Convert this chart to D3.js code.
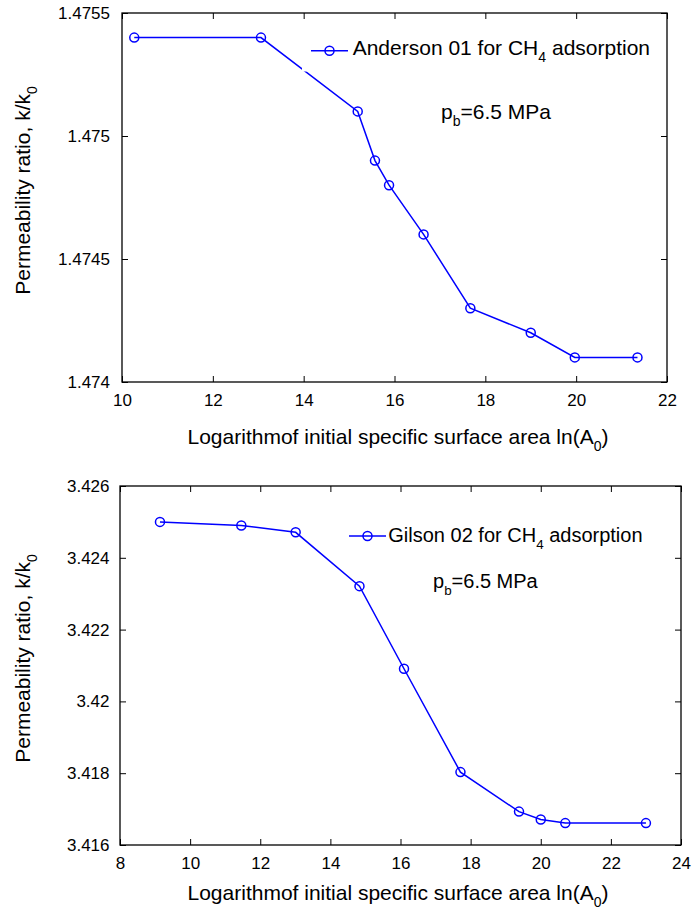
<!DOCTYPE html>
<html>
<head>
<meta charset="utf-8">
<script src="https://cdn.jsdelivr.net/npm/d3@7"></script>
<style>
  body { margin: 0; background: #fff; }
  svg text { font-family: Arial, "Liberation Sans", sans-serif; fill: #000; }
</style>
</head>
<body>
<div id="chart"></div>
<script>
// Anderson 01 (top panel)
const andersonX = [10.27, 13.06, 15.19, 15.57, 15.88, 16.64, 17.67, 19.0, 19.97, 21.35];
const andersonY = [1.4754, 1.4754, 1.4751, 1.4749, 1.4748, 1.4746, 1.4743, 1.4742, 1.4741, 1.4741];

// Gilson 02 (bottom panel)
const gilsonX = [9.14, 11.46, 13.01, 14.83, 16.10, 17.71, 19.38, 20.0, 20.70, 23.0];
const gilsonY = [3.4250, 3.4249, 3.42471, 3.42321, 3.42091, 3.41803, 3.41693, 3.41671, 3.41661, 3.41661];

const topXTicks = [10, 12, 14, 16, 18, 20, 22];
const topYTicks = [1.474, 1.4745, 1.475, 1.4755];
const botXTicks = [8, 10, 12, 14, 16, 18, 20, 22, 24];
const botYTicks = [3.416, 3.418, 3.42, 3.422, 3.424, 3.426];

const W = 692, H = 911;
const blue = '#0000ff';
const tickFont = 17, labelFont = 21, subFont = 14;

const svg = d3.select('#chart').append('svg')
    .attr('width', W)
    .attr('height', H);

// text with a subscript part: parts = [[text, isSub], ...]
function richText(sel, parts, sub = subFont) {
    let down = false;
    parts.forEach(([t, isSub]) => {
        const ts = sel.append('tspan').text(t);
        if (isSub && !down) { ts.attr('dy', 7).attr('font-size', sub); down = true; }
        else if (!isSub && down) { ts.attr('dy', -7); down = false; }
    });
}

function drawPanel(cfg) {
    const { box, xDomain, yDomain, xTicks, yTicks, xs, ys, legend, legendBox, note, yPad, xLabelY, noteFont } = cfg;
    const x = d3.scaleLinear().domain(xDomain).range([box.left, box.right]);
    const y = d3.scaleLinear().domain(yDomain).range([box.bottom, box.top]);
    const g = svg.append('g');

    // data line
    const pts = xs.map((v, i) => [v, ys[i]]);
    g.append('path')
        .datum(pts)
        .attr('fill', 'none')
        .attr('stroke', blue)
        .attr('stroke-width', 1.5)
        .attr('d', d3.line().x(d => x(d[0])).y(d => y(d[1])));

    g.selectAll('circle.pt')
        .data(pts)
        .enter()
        .append('circle')
        .attr('class', 'pt')
        .attr('cx', d => x(d[0]))
        .attr('cy', d => y(d[1]))
        .attr('r', 4.5)
        .attr('fill', 'none')
        .attr('stroke', blue)
        .attr('stroke-width', 1.5);

    // legend background (white, covers a bit of the line)
    g.append('rect')
        .attr('x', legendBox.x)
        .attr('y', legendBox.y)
        .attr('width', legendBox.w)
        .attr('height', legendBox.h)
        .attr('fill', '#fff');

    // axes: inward ticks, mirrored on top/right
    g.append('g')
        .attr('transform', `translate(0,${box.bottom})`)
        .call(d3.axisBottom(x).tickValues(xTicks).tickSizeInner(-6).tickSizeOuter(0).tickPadding(11.5))
        .call(a => a.selectAll('text').attr('font-size', tickFont));
    g.append('g')
        .attr('transform', `translate(0,${box.top})`)
        .call(d3.axisTop(x).tickValues(xTicks).tickSizeInner(-6).tickSizeOuter(0).tickFormat(''));
    g.append('g')
        .attr('transform', `translate(${box.left},0)`)
        .call(d3.axisLeft(y).tickValues(yTicks).tickSizeInner(-6).tickSizeOuter(0).tickPadding(yPad)
            .tickFormat(d => String(+d.toFixed(5))))
        .call(a => a.selectAll('text').attr('font-size', tickFont));
    g.append('g')
        .attr('transform', `translate(${box.right},0)`)
        .call(d3.axisRight(y).tickValues(yTicks).tickSizeInner(-6).tickSizeOuter(0).tickFormat(''));
    g.selectAll('.domain').remove();
    g.selectAll('.tick line').attr('stroke', '#000');
    g.selectAll('.tick text').attr('fill', '#000').attr('font-family', 'Arial, "Liberation Sans", sans-serif');

    g.append('rect')
        .attr('x', box.left)
        .attr('y', box.top)
        .attr('width', box.right - box.left)
        .attr('height', box.bottom - box.top)
        .attr('fill', 'none')
        .attr('stroke', '#000')
        .attr('stroke-width', 1.3);

    // legend entry
    g.append('line')
        .attr('x1', legend.x1).attr('x2', legend.x2)
        .attr('y1', legend.y).attr('y2', legend.y)
        .attr('stroke', blue).attr('stroke-width', 1.5);
    g.append('circle')
        .attr('cx', (legend.x1 + legend.x2) / 2)
        .attr('cy', legend.y)
        .attr('r', 4.5)
        .attr('fill', 'none')
        .attr('stroke', blue)
        .attr('stroke-width', 1.5);
    richText(g.append('text')
        .attr('x', legend.textX)
        .attr('y', legend.textY)
        .attr('font-size', noteFont),
        [[legend.label + ' for CH', false], ['4', true], [' adsorption', false]], noteFont * 0.67);

    // pressure note
    richText(g.append('text')
        .attr('x', note.x)
        .attr('y', note.y)
        .attr('font-size', noteFont),
        [['p', false], ['b', true], ['=6.5 MPa', false]], noteFont * 0.67);

    // x label
    richText(g.append('text')
        .attr('x', 398)
        .attr('y', xLabelY)
        .attr('text-anchor', 'middle')
        .attr('font-size', labelFont),
        [['Logarithmof initial specific surface area ln(A', false], ['0', true], [')', false]]);

    // y label
    richText(g.append('text')
        .attr('transform', `translate(29.5,${(box.top + box.bottom) / 2 - 7}) rotate(-90)`)
        .attr('text-anchor', 'middle')
        .attr('font-size', labelFont),
        [['Permeability ratio, k/k', false], ['0', true]]);
}

drawPanel({
    box: { left: 122, right: 667, top: 13, bottom: 382 },
    xDomain: [10, 22],
    yDomain: [1.474, 1.4755],
    xTicks: topXTicks,
    yTicks: topYTicks,
    xs: andersonX,
    ys: andersonY,
    yPad: 12,
    xLabelY: 444,
    noteFont: 21,
    legendBox: { x: 302, y: 32, w: 360, h: 39.5 },
    legend: { x1: 311, x2: 348, y: 50.7, textX: 352.7, textY: 55, label: 'Anderson 01' },
    note: { x: 441, y: 119 }
});

drawPanel({
    box: { left: 120, right: 681, top: 486, bottom: 845 },
    xDomain: [8, 24],
    yDomain: [3.416, 3.426],
    xTicks: botXTicks,
    yTicks: botYTicks,
    xs: gilsonX,
    ys: gilsonY,
    yPad: 10.5,
    xLabelY: 900,
    noteFont: 20,
    legendBox: { x: 345, y: 518, w: 300, h: 34 },
    legend: { x1: 349, x2: 386, y: 536, textX: 388.3, textY: 541.5, label: 'Gilson 02' },
    note: { x: 433, y: 587.5 }
});
</script>
</body>
</html>
